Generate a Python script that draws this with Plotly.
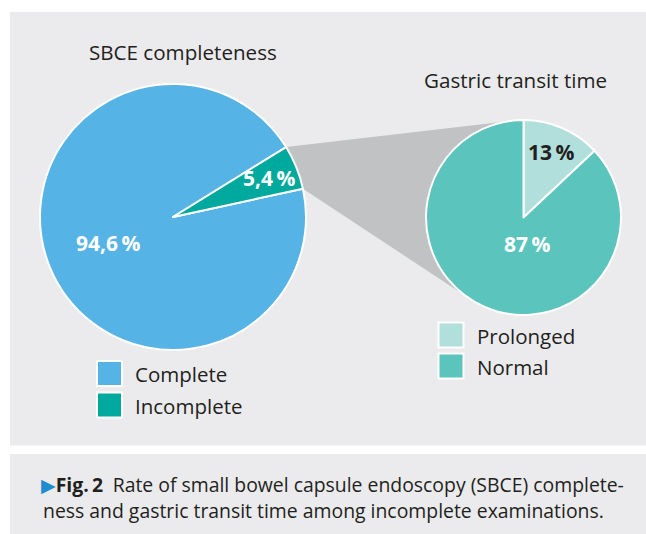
import math
import plotly.graph_objects as go

# ---------------- data ----------------
left_title = "SBCE completeness"
left_labels = ["Complete", "Incomplete"]
left_values = [94.6, 5.4]
left_colors = ["#56b3e6", "#00a99d"]

right_title = "Gastric transit time"
right_labels = ["Prolonged", "Normal"]
right_values = [13, 87]
right_colors = ["#b1dfdb", "#5bc4bd"]

caption_line1 = "Rate of small bowel capsule endoscopy (SBCE) complete-"
caption_line2 = "ness and gastric transit time among incomplete examinations."
fig_label = "Fig.\u20092"

# ---------------- layout geometry (pixels) ----------------
W, H = 646, 534
FONT = "Open Sans"
TXT = "#231f20"
PANEL = "#ebebed"
CONNECT = "#c1c2c4"

C1, R1 = (173.0, 217.0), 133.0      # left pie centre / radius
C2, R2 = (523.5, 217.5), 97.5       # right pie centre / radius
left_rotation = 77.7                # clockwise from 12 o'clock
right_rotation = 0.0


def px(x):
    return x / W


def py(y):
    return 1 - y / H


def dom(c, r):
    return dict(x=[px(c[0] - r), px(c[0] + r)], y=[py(c[1] + r), py(c[1] - r)])


def pt(c, r, a_cw):
    a = math.radians(a_cw)
    return (c[0] + r * math.sin(a), c[1] - r * math.cos(a))


fig = go.Figure()

fig.add_trace(go.Pie(
    labels=left_labels, values=left_values, sort=False, direction="clockwise",
    rotation=left_rotation, domain=dom(C1, R1), textinfo="none",
    marker=dict(colors=left_colors, line=dict(color="white", width=2)),
    showlegend=False, hoverinfo="label+percent",
))
fig.add_trace(go.Pie(
    labels=right_labels, values=right_values, sort=False, direction="clockwise",
    rotation=right_rotation, domain=dom(C2, R2), textinfo="none",
    marker=dict(colors=right_colors, line=dict(color="white", width=2)),
    showlegend=False, hoverinfo="label+percent",
))

shapes = []
# panels
shapes.append(dict(type="rect", xref="paper", yref="paper", layer="below",
                   x0=px(10), x1=px(W + 2), y0=py(445.5), y1=py(12),
                   fillcolor=PANEL, line=dict(width=0)))
shapes.append(dict(type="rect", xref="paper", yref="paper", layer="below",
                   x0=px(10), x1=px(W + 2), y0=py(H + 2), y1=py(454),
                   fillcolor=PANEL, line=dict(width=0)))

# connector from the incomplete slice to the second pie (tangent lines)
tot = sum(left_values)
a_start = left_rotation + 360 * left_values[0] / tot
a_end = left_rotation + 360
p_up = pt(C1, R1, a_start)
p_low = pt(C1, R1, a_end)


def tangent(p, pick_upper):
    vx, vy = p[0] - C2[0], p[1] - C2[1]
    d = math.hypot(vx, vy)
    th = math.atan2(vy, vx)
    al = math.acos(R2 / d)
    cands = [(C2[0] + R2 * math.cos(th + s * al), C2[1] + R2 * math.sin(th + s * al)) for s in (1, -1)]
    cands.sort(key=lambda q: q[1])
    return cands[0] if pick_upper else cands[1]


t_up = tangent(p_up, True)
t_low = tangent(p_low, False)
poly = [p_up, t_up, C2, t_low, p_low]
path = "M " + " L ".join(f"{px(x):.5f},{py(y):.5f}" for x, y in poly) + " Z"
shapes.append(dict(type="path", xref="paper", yref="paper", layer="below",
                   path=path, fillcolor=CONNECT, line=dict(width=0)))

annotations = []


def ann(text, x, y, size, color=TXT, xanchor="center", bold=False, family=FONT):
    annotations.append(dict(
        text=f"<b>{text}</b>" if bold else text, x=px(x), y=py(y),
        xref="paper", yref="paper", xanchor=xanchor, yanchor="middle",
        showarrow=False, font=dict(family=family, size=size, color=color)))


# titles
ann(left_title, 183, 52, 20.6)
ann(right_title, 515.5, 80, 20.6)


# slice labels
def fmt(v):
    s = f"{v:g}".replace(".", ",")
    return s + "\u2009%"


def slice_mid(values, rotation, i):
    tot_ = sum(values)
    before = sum(values[:i])
    return rotation + 360 * (before + values[i] / 2) / tot_


left_label_r = [0.53, 0.78]
right_label_r = [0.73, 0.27]
left_label_col = ["white", "white"]
right_label_col = [TXT, "white"]
for i, v in enumerate(left_values):
    x, y = pt(C1, R1 * left_label_r[i], slice_mid(left_values, left_rotation, i))
    ann(fmt(v), x, y, 21, left_label_col[i], bold=True)
for i, v in enumerate(right_values):
    a = slice_mid(right_values, right_rotation, i)
    if i == 1:
        a = 172
    x, y = pt(C2, R2 * right_label_r[i], a)
    ann(fmt(v), x, y, 21, right_label_col[i], bold=True)


# legends (swatches + labels)
def legend(labels, colors, x0, y0, pitch):
    for i, (lab, col) in enumerate(zip(labels, colors)):
        top = y0 + i * pitch
        shapes.append(dict(type="rect", xref="paper", yref="paper",
                           x0=px(x0), x1=px(x0 + 25), y0=py(top + 25), y1=py(top),
                           fillcolor=col, line=dict(color="white", width=2)))
        ann(lab, x0 + 36, top + 13, 20.5, xanchor="left")


legend(left_labels, left_colors, 97, 361, 31.5)
legend(right_labels, right_colors, 438.5, 322.5, 31)

# caption
ann('<span style="font-family:DejaVu Sans;color:#1f8ccf;font-size:19px">\u25B6</span>'
    f"<b>{fig_label}</b>\u2002{caption_line1}", 39, 484, 19.4, xanchor="left")
ann(caption_line2, 41, 510, 19.4, xanchor="left")

fig.update_layout(
    width=W, height=H, margin=dict(l=0, r=0, t=0, b=0),
    paper_bgcolor="white", plot_bgcolor="white",
    shapes=shapes, annotations=annotations, showlegend=False,
    font=dict(family=FONT, color=TXT),
)

fig.write_html("out.html", config={"displayModeBar": False},
               post_script="document.body.style.margin='0';")
